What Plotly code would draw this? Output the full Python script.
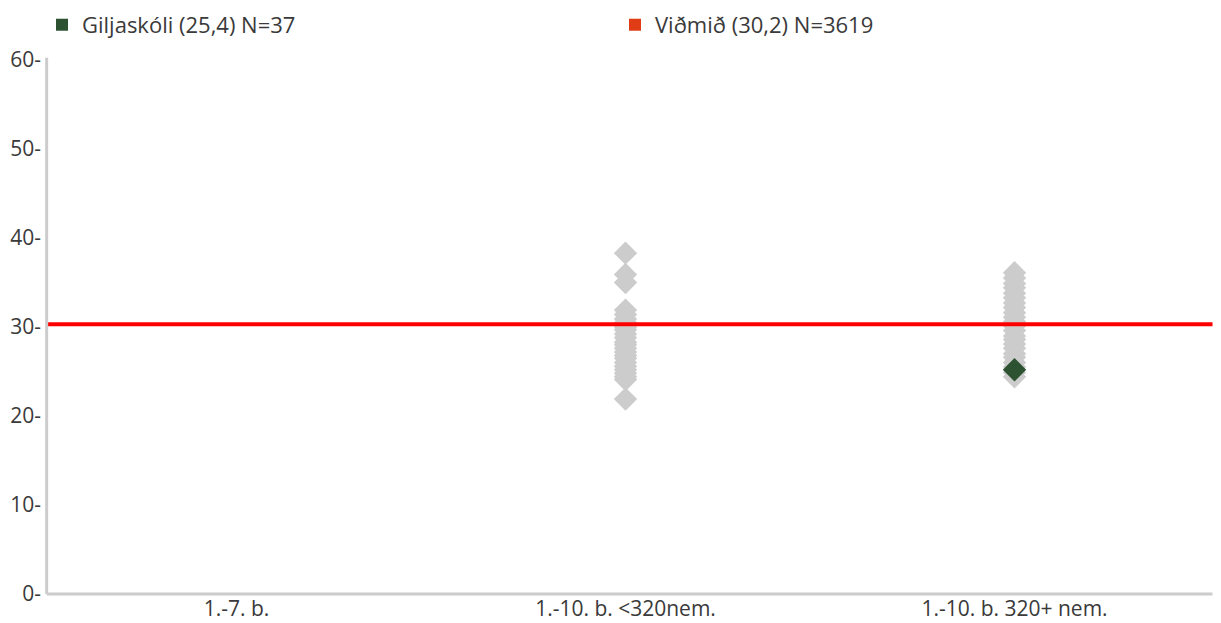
import plotly.graph_objects as go

categories = ["1.-7. b.", "1.-10. b. <320nem.", "1.-10. b. 320+ nem."]

# other schools, smaller 1.-10. b. group
small_school_values = [38.3, 35.9, 35.0, 31.9, 31.4, 30.9, 30.5, 30.0, 29.7, 29.2,
                       28.8, 28.3, 28.0, 27.6, 27.2, 26.8, 26.5, 26.0, 25.6, 25.2,
                       24.8, 24.4, 24.1, 21.9]
# other schools, larger 1.-10. b. group
large_school_values = [36.1, 35.5, 34.9, 34.4, 33.8, 33.3, 32.7, 32.2, 31.6, 31.1,
                       30.6, 30.1, 29.6, 29.0, 28.6, 28.1, 27.6, 27.0, 26.6, 26.0,
                       25.5, 24.9, 24.4]

school_name = "Giljaskóli (25,4) N=37"
school_category = "1.-10. b. 320+ nem."
school_value = 25.2

benchmark_name = "Viðmið (30,2) N=3619"
benchmark_value = 30.3

FONT = "Open Sans"
TEXT = "#3a3a3a"
GREY = "#cccccc"

fig = go.Figure()

fig.add_trace(go.Scatter(
    x=[categories[1]] * len(small_school_values), y=small_school_values,
    mode="markers", marker=dict(symbol="diamond", size=18, color=GREY),
    showlegend=False, hoverinfo="y",
))
fig.add_trace(go.Scatter(
    x=[categories[2]] * len(large_school_values), y=large_school_values,
    mode="markers", marker=dict(symbol="diamond", size=18, color=GREY),
    showlegend=False, hoverinfo="y",
))
fig.add_trace(go.Scatter(
    x=[school_category], y=[school_value],
    mode="markers", marker=dict(symbol="diamond", size=18, color="#2d5232"),
    showlegend=False, name=school_name,
))

# legend entries only
fig.add_trace(go.Scatter(
    x=[None], y=[None], mode="markers",
    marker=dict(symbol="square", size=13, color="#2d5232"),
    name=school_name,
))
fig.add_trace(go.Scatter(
    x=[None], y=[None], mode="markers",
    marker=dict(symbol="square", size=13, color="#e03c16"),
    name=benchmark_name,
))

fig.add_shape(type="line", xref="paper", yref="y", x0=0.004, x1=1.003,
              y0=benchmark_value, y1=benchmark_value,
              line=dict(color="#ff0000", width=4))

# page body adds an 8px offset, so the figure is a bit smaller than the window
fig.update_layout(
    width=1213, height=615,
    margin=dict(l=34, r=12, t=52, b=29, autoexpand=False),
    paper_bgcolor="white", plot_bgcolor="white",
    font=dict(family=FONT, size=21, color=TEXT),
    legend=dict(orientation="h", x=0, y=1.105, xanchor="left", yanchor="top",
                entrywidth=528, entrywidthmode="pixels",
                font=dict(size=22, color=TEXT), itemsizing="constant"),
    xaxis=dict(type="category", categoryorder="array", categoryarray=categories,
               range=[-0.5, 2.5], showgrid=False, zeroline=False,
               showline=False, ticks="", automargin=False,
               tickfont=dict(size=21, color=TEXT)),
    yaxis=dict(range=[0, 60], dtick=10, showgrid=False, zeroline=False,
               showline=False, ticks="", ticksuffix="-", automargin=False,
               tickfont=dict(size=21, color=TEXT)),
)

# axis lines drawn slightly inside the category band, as in the original
fig.add_shape(type="line", xref="paper", yref="paper", x0=0.004, x1=0.004,
              y0=0, y1=1.004, line=dict(color=GREY, width=3))
fig.add_shape(type="line", xref="paper", yref="paper", x0=0.004, x1=1.003,
              y0=0, y1=0, line=dict(color=GREY, width=3))

fig.write_html("out.html")
